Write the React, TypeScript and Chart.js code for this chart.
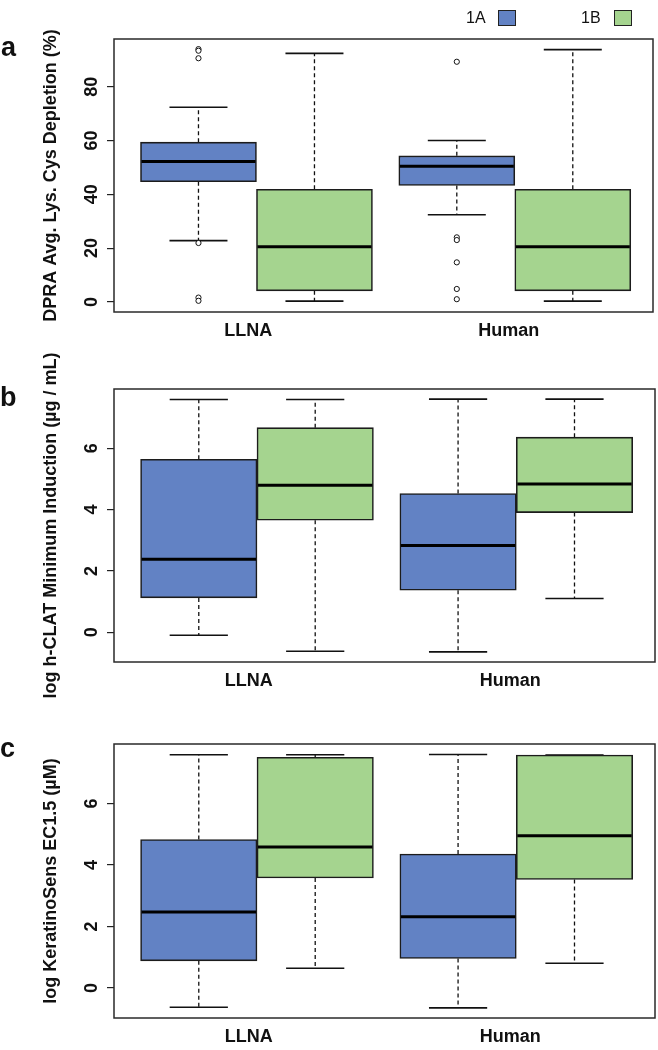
import React, { useEffect, useRef } from 'react';
import { Chart, registerables } from 'chart.js';

Chart.register(...registerables);

const FONT = "'Liberation Sans', Arial, Helvetica, sans-serif";
Chart.defaults.font.family = FONT;

// ---------- data ----------
const groups = ['LLNA', 'Human'];
const seriesNames = ['1A', '1B'];
const seriesColors = ['#6282c4', '#a5d48f'];
const groupPositions = [1, 2];
const groupLabelPositions = [0.968, 1.977];

const dpraTicks = [0, 20, 40, 60, 80];
const logTicks = [0, 2, 4, 6];

// five-number summaries: [lower whisker, Q1, median, Q3, upper whisker]
const dpraLLNA1A = [22.8, 44.7, 52.2, 59.4, 72.4];
const dpraLLNA1B = [0.3, 4.1, 20.5, 41.9, 92.4];
const dpraHuman1A = [32.4, 43.3, 50.4, 54.3, 60.0];
const dpraHuman1B = [0.3, 4.1, 20.5, 41.9, 93.8];
const dpraLLNA1AOutliers = [94.0, 93.4, 90.6, 21.9, 1.6, 0.4];
const dpraLLNA1BOutliers: number[] = [];
const dpraHuman1AOutliers = [89.3, 24.0, 23.0, 14.7, 4.8, 1.0];
const dpraHuman1BOutliers: number[] = [];

const hclatLLNA1A = [-0.1, 1.12, 2.38, 5.64, 7.59];
const hclatLLNA1B = [-0.62, 3.65, 4.79, 6.67, 7.59];
const hclatHuman1A = [-0.64, 1.37, 2.83, 4.52, 7.6];
const hclatHuman1B = [1.1, 3.9, 4.83, 6.36, 7.6];

const ksLLNA1A = [-0.63, 0.88, 2.47, 4.83, 7.59];
const ksLLNA1B = [0.64, 3.58, 4.59, 7.51, 7.59];
const ksHuman1A = [-0.65, 0.96, 2.32, 4.36, 7.6];
const ksHuman1B = [0.8, 3.53, 4.95, 7.58, 7.58];

// ---------- helpers ----------
const HALF = 0.2245;

const boxPlugin = {
  id: 'boxExtras',
  beforeDatasetsDraw(chart: any) {
    const ctx = chart.ctx;
    const y = chart.scales.y;
    chart.data.datasets.forEach((ds: any, di: number) => {
      if (!ds.stats) return;
      const meta = chart.getDatasetMeta(di);
      meta.data.forEach((el: any, j: number) => {
        const s = ds.stats[j];
        const { x, width } = el.getProps(['x', 'width'], true);
        const cap = width / 4;
        ctx.save();
        ctx.strokeStyle = '#111';
        ctx.lineWidth = 1.3;
        ctx.setLineDash([4, 3]);
        ctx.beginPath();
        ctx.moveTo(x, y.getPixelForValue(s[3]));
        ctx.lineTo(x, y.getPixelForValue(s[4]));
        ctx.moveTo(x, y.getPixelForValue(s[1]));
        ctx.lineTo(x, y.getPixelForValue(s[0]));
        ctx.stroke();
        ctx.setLineDash([]);
        ctx.lineWidth = 1.6;
        ctx.beginPath();
        ctx.moveTo(x - cap, y.getPixelForValue(s[4]));
        ctx.lineTo(x + cap, y.getPixelForValue(s[4]));
        ctx.moveTo(x - cap, y.getPixelForValue(s[0]));
        ctx.lineTo(x + cap, y.getPixelForValue(s[0]));
        ctx.stroke();
        ctx.restore();
      });
    });
  },
  afterDatasetsDraw(chart: any) {
    const ctx = chart.ctx;
    const y = chart.scales.y;
    chart.data.datasets.forEach((ds: any, di: number) => {
      if (!ds.stats) return;
      const meta = chart.getDatasetMeta(di);
      meta.data.forEach((el: any, j: number) => {
        const s = ds.stats[j];
        const { x, width } = el.getProps(['x', 'width'], true);
        const py = y.getPixelForValue(s[2]);
        ctx.save();
        ctx.strokeStyle = '#000';
        ctx.lineWidth = 3;
        ctx.beginPath();
        ctx.moveTo(x - width / 2 + 1, py);
        ctx.lineTo(x + width / 2 - 1, py);
        ctx.stroke();
        ctx.restore();
      });
    });
    const a = chart.chartArea;
    ctx.save();
    ctx.strokeStyle = '#2a2a2a';
    ctx.lineWidth = 1.5;
    ctx.strokeRect(a.left, a.top, a.right - a.left, a.bottom - a.top);
    ctx.restore();
  },
};

type PanelSpec = {
  stats: number[][][]; // [series][group] -> five numbers
  outliers: number[][][]; // [series][group] -> values
  yMin: number;
  yMax: number;
  yTicks: number[];
  title: string;
  padTop: number;
  xAxisHeight: number;
  tickPad: number;
};

function buildConfig(spec: PanelSpec): any {
  const offsets = [-HALF, HALF];
  const outlierData: { x: number; y: number }[] = [];
  spec.outliers.forEach((perGroup, si) =>
    perGroup.forEach((vals, gi) =>
      vals.forEach((v) => outlierData.push({ x: groupPositions[gi] + offsets[si], y: v }))
    )
  );
  const boxSets = seriesNames.map((name, si) => ({
    type: 'bar',
    label: name,
    data: spec.stats[si].map((s, gi) => ({ x: groupPositions[gi] + offsets[si], y: [s[1], s[3]] })),
    backgroundColor: seriesColors[si],
    borderColor: '#1c1c1c',
    borderWidth: 1.6,
    borderSkipped: false,
    grouped: false,
    barPercentage: 1,
    categoryPercentage: 1,
    stats: spec.stats[si],
  }));
  return {
    type: 'bar',
    data: {
      datasets: [
        {
          type: 'scatter',
          label: 'outliers',
          data: outlierData,
          pointStyle: 'circle',
          pointRadius: 2.6,
          pointBackgroundColor: '#ffffff',
          pointBorderColor: '#111',
          pointBorderWidth: 1,
        },
        ...boxSets,
      ],
    },
    options: {
      responsive: false,
      animation: false,
      events: [],
      layout: { padding: { top: spec.padTop, right: 3, bottom: 0, left: 0 } },
      plugins: { legend: { display: false }, tooltip: { enabled: false } },
      scales: {
        x: {
          type: 'linear',
          min: 0.4485,
          max: 2.535,
          offset: false,
          grid: { display: false, drawTicks: false },
          border: { display: false },
          afterBuildTicks: (s: any) => {
            s.ticks = groupLabelPositions.map((v) => ({ value: v }));
          },
          afterFit: (s: any) => {
            s.height = spec.xAxisHeight;
          },
          ticks: {
            callback: (_v: any, i: number) => groups[i],
            autoSkip: false,
            maxRotation: 0,
            padding: 8,
            color: '#111',
            font: { size: 18, weight: 'bold' },
          },
        },
        y: {
          type: 'linear',
          min: spec.yMin,
          max: spec.yMax,
          afterBuildTicks: (s: any) => {
            s.ticks = spec.yTicks.map((v) => ({ value: v }));
          },
          afterFit: (s: any) => {
            s.width = 114;
          },
          ticks: {
            minRotation: 90,
            maxRotation: 90,
            crossAlign: 'center',
            padding: spec.tickPad,
            color: '#111',
            font: { size: 18, weight: 'bold' },
            callback: (v: any) => String(v),
          },
          grid: { drawOnChartArea: false, drawTicks: true, tickLength: 7, color: '#222', lineWidth: 1.2 },
          border: { display: false },
          title: {
            display: true,
            text: spec.title,
            color: '#111',
            font: { size: 18, weight: 'bold' },
            padding: { top: 40, bottom: 0 },
          },
        },
      },
    },
    plugins: [boxPlugin],
  };
}

const panelA: PanelSpec = {
  stats: [
    [dpraLLNA1A, dpraHuman1A],
    [dpraLLNA1B, dpraHuman1B],
  ],
  outliers: [
    [dpraLLNA1AOutliers, dpraHuman1AOutliers],
    [dpraLLNA1BOutliers, dpraHuman1BOutliers],
  ],
  yMin: -3.76,
  yMax: 97.76,
  yTicks: dpraTicks,
  title: 'DPRA Avg. Lys. Cys Depletion (%)',
  padTop: 39,
  xAxisHeight: 33,
  tickPad: 5,
};

const panelB: PanelSpec = {
  stats: [
    [hclatLLNA1A, hclatHuman1A],
    [hclatLLNA1B, hclatHuman1B],
  ],
  outliers: [
    [[], []],
    [[], []],
  ],
  yMin: -0.97,
  yMax: 7.93,
  yTicks: logTicks,
  title: 'log h-CLAT Minimum Induction (µg / mL)',
  padTop: 59,
  xAxisHeight: 48,
  tickPad: 10,
};

const panelC: PanelSpec = {
  stats: [
    [ksLLNA1A, ksHuman1A],
    [ksLLNA1B, ksHuman1B],
  ],
  outliers: [
    [[], []],
    [[], []],
  ],
  yMin: -0.98,
  yMax: 7.94,
  yTicks: logTicks,
  title: 'log KeratinoSens EC1.5 (µM)',
  padTop: 44,
  xAxisHeight: 32,
  tickPad: 10,
};

function BoxPanel({ top, height, spec }: { top: number; height: number; spec: PanelSpec }) {
  const ref = useRef<HTMLCanvasElement>(null);
  useEffect(() => {
    const chart = new Chart(ref.current as HTMLCanvasElement, buildConfig(spec));
    return () => chart.destroy();
  }, [spec]);
  return (
    <canvas
      ref={ref}
      width={658}
      height={height}
      style={{ position: 'absolute', left: 0, top, width: 658, height }}
    />
  );
}

const letterStyle: React.CSSProperties = {
  position: 'absolute',
  fontSize: 27,
  lineHeight: '27px',
  fontWeight: 'bold',
  color: '#111',
};

const legendText: React.CSSProperties = {
  position: 'absolute',
  fontSize: 16,
  lineHeight: '16px',
  color: '#111',
};

export default function App() {
  return (
    <div
      style={{
        position: 'absolute',
        left: 0,
        top: 0,
        width: 658,
        height: 1050,
        background: '#fff',
        fontFamily: FONT,
        overflow: 'hidden',
      }}
    >
      <BoxPanel top={0} height={345} spec={panelA} />
      <BoxPanel top={330} height={380} spec={panelB} />
      <BoxPanel top={700} height={350} spec={panelC} />

      <span style={{ ...legendText, left: 466, top: 10 }}>{seriesNames[0]}</span>
      <div
        style={{
          position: 'absolute',
          left: 498,
          top: 10,
          width: 18,
          height: 16,
          background: seriesColors[0],
          border: '1px solid #222',
          boxSizing: 'border-box',
        }}
      />
      <span style={{ ...legendText, left: 581, top: 10 }}>{seriesNames[1]}</span>
      <div
        style={{
          position: 'absolute',
          left: 614,
          top: 10,
          width: 18,
          height: 16,
          background: seriesColors[1],
          border: '1px solid #222',
          boxSizing: 'border-box',
        }}
      />

      <span style={{ ...letterStyle, left: 1, top: 34 }}>a</span>
      <span style={{ ...letterStyle, left: 0, top: 384 }}>b</span>
      <span style={{ ...letterStyle, left: 0, top: 735 }}>c</span>
    </div>
  );
}
